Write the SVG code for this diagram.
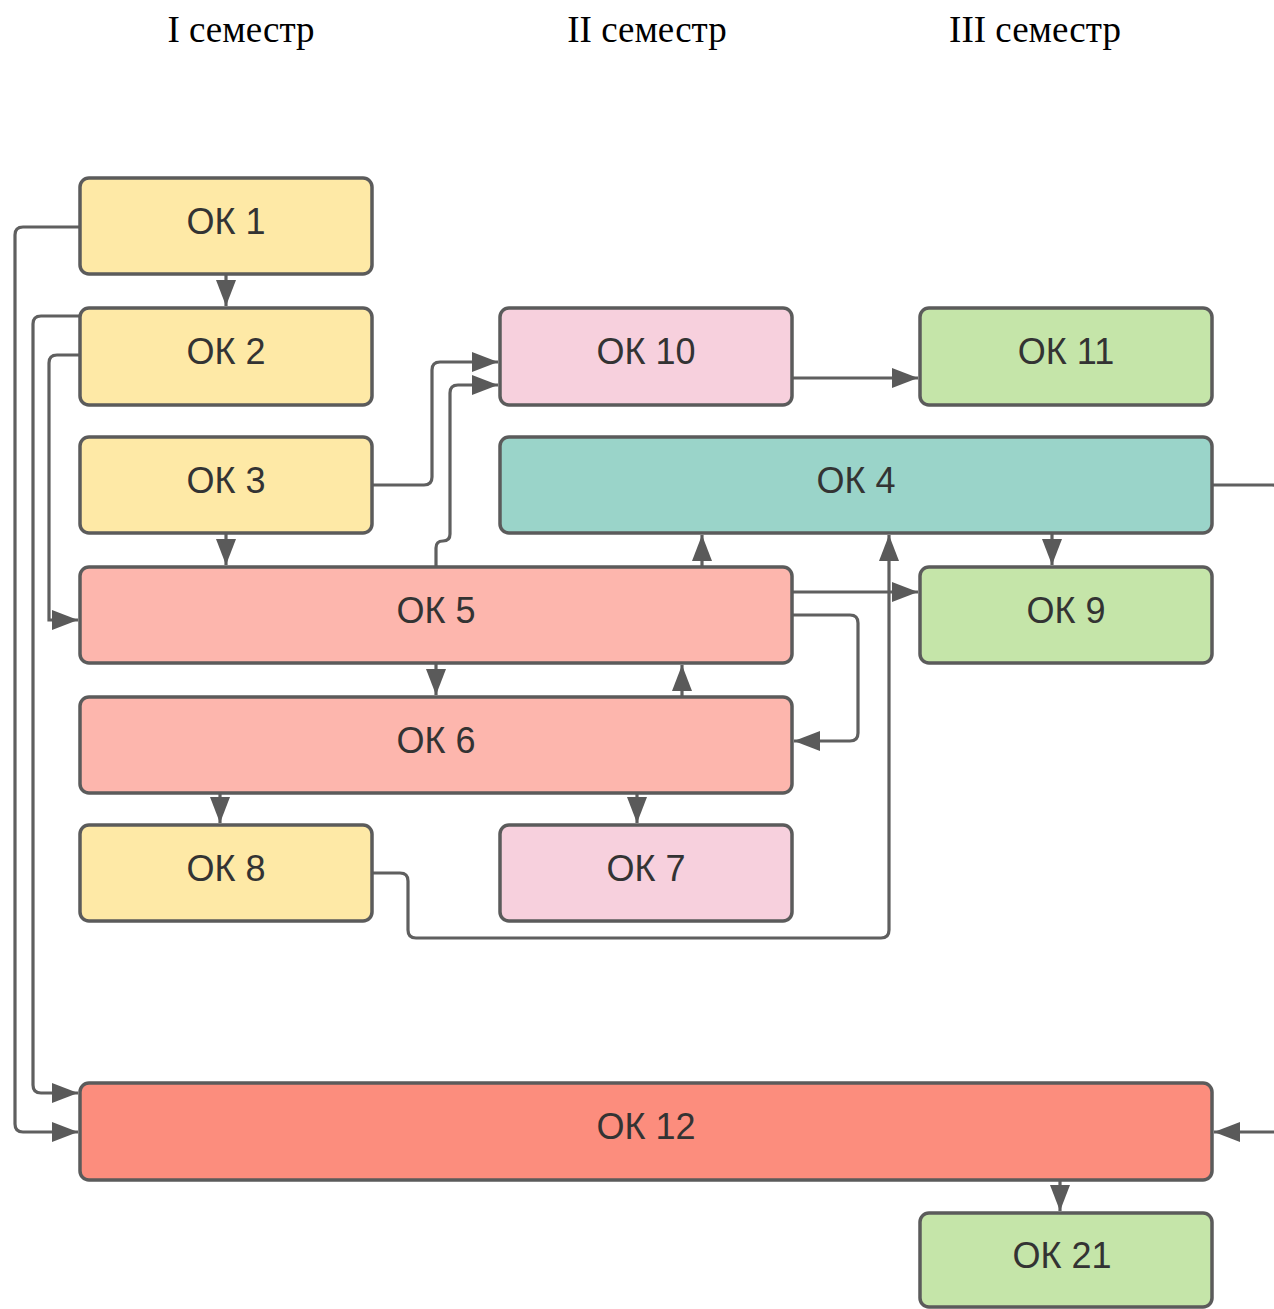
<svg xmlns="http://www.w3.org/2000/svg" width="1274" height="1309" viewBox="0 0 1274 1309">
<style>
.n{stroke:#5b5b5b;stroke-width:3.5}
.t{font-family:"Liberation Sans",Arial,sans-serif;font-size:36px;fill:#333;text-anchor:middle}
.h{font-family:"Liberation Serif","Times New Roman",serif;font-size:37px;fill:#000;text-anchor:middle}
.c{fill:none;stroke:#5f5f5f;stroke-width:3.2}
.y{fill:#FEE9A6}.p{fill:#F7D0DD}.g{fill:#C5E5A9}.q{fill:#9AD4C9}.s{fill:#FDB6AD}.r{fill:#FC8D7D}
</style>
<defs>
<marker id="a" markerUnits="userSpaceOnUse" markerWidth="28" markerHeight="22" refX="26" refY="10" orient="auto">
<path d="M0,0 L26,10 L0,20 z" fill="#5a5a5a"/>
</marker>
</defs>
<rect width="1274" height="1309" fill="#fff"/>
<g id="headers">
<text class="h" x="241" y="42">I семестр</text>
<text class="h" x="647" y="42">II семестр</text>
<text class="h" x="1035" y="42">III семестр</text>
</g>
<g id="connectors">
<path class="c" marker-end="url(#a)" d="M226,274 V306"/>
<path class="c" marker-end="url(#a)" d="M226,533 V565"/>
<path class="c" marker-end="url(#a)" d="M436,663 V695"/>
<path class="c" marker-end="url(#a)" d="M682,697 V665"/>
<path class="c" marker-end="url(#a)" d="M702,567 V535"/>
<path class="c" marker-end="url(#a)" d="M220,793 V823"/>
<path class="c" marker-end="url(#a)" d="M637,793 V823"/>
<path class="c" marker-end="url(#a)" d="M1052,533 V565"/>
<path class="c" marker-end="url(#a)" d="M1060,1180 V1211"/>
<path class="c" marker-end="url(#a)" d="M792,378 H918"/>
<path class="c" marker-end="url(#a)" d="M792,592 H918"/>
<path class="c" marker-end="url(#a)" d="M80,227 H23 Q15,227 15,235 V1124 Q15,1132 23,1132 H78"/>
<path class="c" marker-end="url(#a)" d="M80,316 H41 Q33,316 33,324 V1085 Q33,1093 41,1093 H78"/>
<path class="c" marker-end="url(#a)" d="M80,355 H57 Q49,355 49,363 V620 H78"/>
<path class="c" marker-end="url(#a)" d="M372,485 H424 Q432,485 432,477 V370 Q432,362 440,362 H498"/>
<path class="c" marker-end="url(#a)" d="M436,567 V548 Q436,541 443,541 Q450,541 450,534 V393 Q450,385 458,385 H498"/>
<path class="c" marker-end="url(#a)" d="M792,615 H850 Q858,615 858,623 V733 Q858,741 850,741 H794"/>
<path class="c" marker-end="url(#a)" d="M372,873 H400 Q408,873 408,881 V930 Q408,938 416,938 H881 Q889,938 889,930 V535"/>
<path class="c" marker-end="url(#a)" d="M1212,485 H1272 Q1280,485 1280,493 V1124 Q1280,1132 1272,1132 H1214"/>
</g>
<g id="ok1"><rect class="n y" x="80" y="178" width="292" height="96" rx="9"/><text class="t" x="226" y="234">ОК 1</text></g>
<g id="ok2"><rect class="n y" x="80" y="308" width="292" height="97" rx="9"/><text class="t" x="226" y="364">ОК 2</text></g>
<g id="ok3"><rect class="n y" x="80" y="437" width="292" height="96" rx="9"/><text class="t" x="226" y="493">ОК 3</text></g>
<g id="ok10"><rect class="n p" x="500" y="308" width="292" height="97" rx="9"/><text class="t" x="646" y="364">ОК 10</text></g>
<g id="ok11"><rect class="n g" x="920" y="308" width="292" height="97" rx="9"/><text class="t" x="1066" y="364">ОК 11</text></g>
<g id="ok4"><rect class="n q" x="500" y="437" width="712" height="96" rx="9"/><text class="t" x="856" y="493">ОК 4</text></g>
<g id="ok5"><rect class="n s" x="80" y="567" width="712" height="96" rx="9"/><text class="t" x="436" y="623">ОК 5</text></g>
<g id="ok9"><rect class="n g" x="920" y="567" width="292" height="96" rx="9"/><text class="t" x="1066" y="623">ОК 9</text></g>
<g id="ok6"><rect class="n s" x="80" y="697" width="712" height="96" rx="9"/><text class="t" x="436" y="753">ОК 6</text></g>
<g id="ok8"><rect class="n y" x="80" y="825" width="292" height="96" rx="9"/><text class="t" x="226" y="881">ОК 8</text></g>
<g id="ok7"><rect class="n p" x="500" y="825" width="292" height="96" rx="9"/><text class="t" x="646" y="881">ОК 7</text></g>
<g id="ok12"><rect class="n r" x="80" y="1083" width="1132" height="97" rx="9"/><text class="t" x="646" y="1139">ОК 12</text></g>
<g id="ok21"><rect class="n g" x="920" y="1213" width="292" height="94" rx="9"/><text class="t" x="1062" y="1268">ОК 21</text></g>
</svg>
